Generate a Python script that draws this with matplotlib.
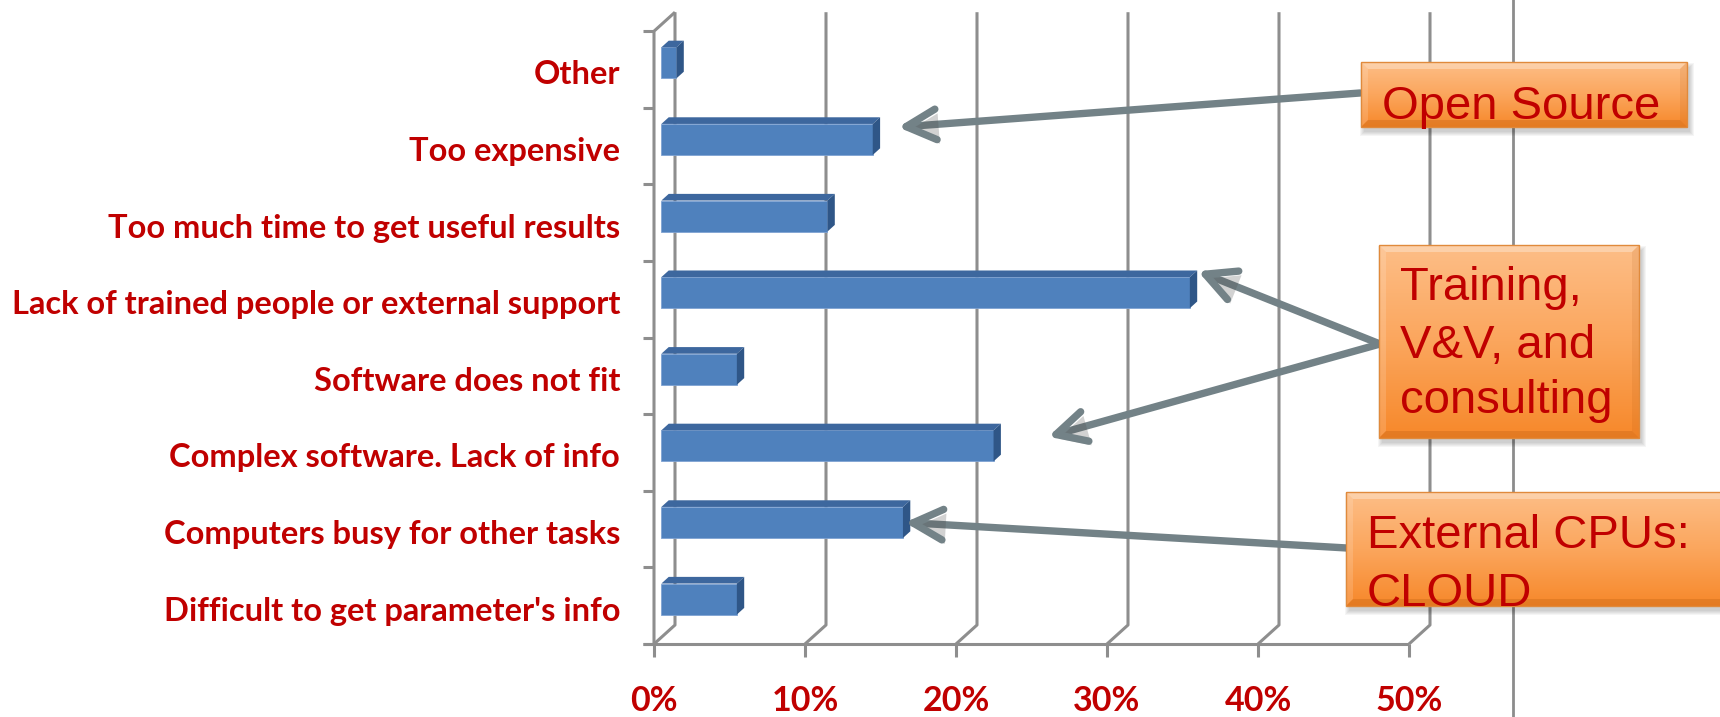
import matplotlib.pyplot as plt
import matplotlib.patheffects as pe
from matplotlib.patches import Polygon, Rectangle
from matplotlib.colors import LinearSegmentedColormap
import numpy as np

# survey answers, bottom to top
categories = ["Difficult to get parameter's info",
              "Computers busy for other tasks",
              "Complex software. Lack of info",
              "Software does not fit",
              "Lack of trained people or external support",
              "Too much time to get useful results",
              "Too expensive",
              "Other"]
values = [5, 16, 22, 5, 35, 11, 14, 1]
xticks = [0, 10, 20, 30, 40, 50]
xtick_labels = ["0%", "10%", "20%", "30%", "40%", "50%"]

RED = "#C00000"
W, H = 1720, 717

fig = plt.figure(figsize=(W / 100, H / 100), dpi=100)
fig.patch.set_facecolor("white")

# chart axes: x in percent, y in category units
ax = fig.add_axes([0, 0, 1, 1])
px_per_pct, px_per_cat = 15.1, 76.6
ax.set_xlim(-654 / px_per_pct, (W - 654) / px_per_pct)
ax.set_ylim(-0.5 - (H - 644) / px_per_cat, -0.5 + 644 / px_per_cat)
ax.axis("off")

# depth of the 3d box (front -> back)
DX, DY = 21 / px_per_pct, 19 / px_per_cat
N = len(categories)
top = N - 0.5

grid = dict(color="#8e8e8e", lw=2.2, solid_capstyle="butt", zorder=1)
for t in xticks:
    ax.plot([t, t + DX, t + DX], [-0.5, -0.5 + DY, top + DY], **grid)
    ax.plot([t, t], [-0.5, -0.5 - 0.17], **grid)
ax.plot([-0.7, xticks[-1]], [-0.5, -0.5], **grid)
ax.plot([0, 0, DX], [-0.5, top, top + DY], **grid)
for k in range(N + 1):
    ax.plot([-0.7, 0], [k - 0.5, k - 0.5], **grid)

# 3d bars
f0, f1 = 0.35, 0.70
h = 0.405
ddx, ddy = (f1 - f0) * DX, (f1 - f0) * DY
for i, v in enumerate(values):
    x0 = f0 * DX
    yb = i + f0 * DY - h / 2
    yt = yb + h
    ax.add_patch(Rectangle((x0, yb), v, h, facecolor="#4F81BD",
                           edgecolor="#7fa3d3", lw=0.6, zorder=3))
    ax.add_patch(Polygon([(x0, yt), (x0 + v, yt), (x0 + v + ddx, yt + ddy),
                          (x0 + ddx, yt + ddy)], closed=True,
                         facecolor="#3D679E", edgecolor="none", zorder=3))
    ax.add_patch(Polygon([(x0 + v, yb), (x0 + v, yt), (x0 + v + ddx, yt + ddy),
                          (x0 + v + ddx, yb + ddy)], closed=True,
                         facecolor="#2F5687", edgecolor="none", zorder=3))

for i, cat in enumerate(categories):
    ax.text(-2.25, i - 0.07, cat, ha="right", va="center", fontsize=23.5,
            fontweight="bold", color=RED, family="Lato")
for t, lbl in zip(xticks, xtick_labels):
    ax.text(t, -1.24, lbl, ha="center", va="center", fontsize=24.5,
            fontweight="bold", color=RED, family="Lato")

# overlay in pixel space for the callouts
ov = fig.add_axes([0, 0, 1, 1])
ov.set_xlim(0, W)
ov.set_ylim(H, 0)
ov.set_autoscale_on(False)
ov.axis("off")

ov.plot([1513, 1513], [0, H], color="#8c8c8c", lw=2, zorder=0)

box_cmap = LinearSegmentedColormap.from_list("box", ["#FDBE87", "#FBA65D", "#F7882A"])


def callout_box(x0, y0, x1, y1):
    for k in range(5):
        ov.add_patch(Rectangle((x0 + 3 - k, y0 + 5 - k), x1 - x0 + 2 * k,
                               y1 - y0 + 2 * k, facecolor="black",
                               edgecolor="none", alpha=0.04, zorder=4))
    grad = np.linspace(0, 1, 256).reshape(-1, 1)
    ov.imshow(grad, extent=(x0, x1, y1, y0), aspect="auto", cmap=box_cmap,
              origin="upper", zorder=5, interpolation="bilinear")
    b = 7
    ov.add_patch(Polygon([(x0, y0), (x1, y0), (x1 - b, y0 + b), (x0 + b, y0 + b)],
                         facecolor="white", alpha=0.3, edgecolor="none", zorder=6))
    ov.add_patch(Polygon([(x0, y0), (x0 + b, y0 + b), (x0 + b, y1 - b), (x0, y1)],
                         facecolor="white", alpha=0.15, edgecolor="none", zorder=6))
    ov.add_patch(Polygon([(x0, y1), (x0 + b, y1 - b), (x1 - b, y1 - b), (x1, y1)],
                         facecolor="#9a4500", alpha=0.2, edgecolor="none", zorder=6))
    ov.add_patch(Polygon([(x1, y0), (x1, y1), (x1 - b, y1 - b), (x1 - b, y0 + b)],
                         facecolor="#9a4500", alpha=0.1, edgecolor="none", zorder=6))
    ov.add_patch(Rectangle((x0, y0), x1 - x0, y1 - y0, facecolor="none",
                           edgecolor="#E08A3C", lw=1, zorder=6))


def box_text(x, baselines, lines):
    for yb, s in zip(baselines, lines):
        ov.text(x, yb, s, ha="left", va="baseline", fontsize=34, color=RED,
                family="Liberation Sans", zorder=7)


arrow = dict(arrowstyle="->,head_length=0.43,head_width=0.22", mutation_scale=50,
             lw=5.3, color="#738287", shrinkA=0, shrinkB=0, capstyle="round",
             joinstyle="round",
             path_effects=[pe.SimplePatchShadow(offset=(2, -3), alpha=0.25),
                           pe.Normal()])


def point_at(idx, gap, lift, start):
    tip = (values[idx] + f0 * DX + gap, idx + f0 * DY + lift)
    ov.annotate("", xy=tip, xycoords=ax.transData, xytext=start,
                textcoords="data", arrowprops=arrow, zorder=3)


# Open Source
point_at(6, 1.68, 0.16, (1360, 93))
callout_box(1361, 62, 1687, 127)
box_text(1382, [119], ["Open Source"])

# Training, V&V, and consulting
point_at(4, 0.53, 0.28, (1380, 344))
point_at(2, 3.62, 0.12, (1380, 344))
callout_box(1379, 245, 1639, 438)
box_text(1400, [300, 358, 413], ["Training,", "V&V, and", "consulting"])

# External CPUs
point_at(1, 0.13, 0.0, (1347, 548))
callout_box(1346, 492, 1770, 606)
box_text(1367, [548, 606], ["External CPUs:", "CLOUD"])

fig.savefig("out.png", dpi=100, facecolor="white")
